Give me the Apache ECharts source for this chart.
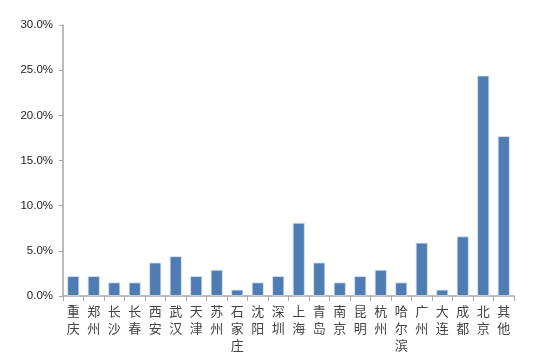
<!DOCTYPE html>
<html>
<head>
<meta charset="utf-8">
<script src="https://cdn.jsdelivr.net/npm/echarts@6/dist/echarts.min.js"></script>
<style>
  html, body { margin: 0; padding: 0; background: #fff; }
  #chart { width: 542px; height: 352px; }
</style>
</head>
<body>
<div id="chart"></div>
<script>
'use strict';

// 城市分类
const cities = ['重庆', '郑州', '长沙', '长春', '西安', '武汉', '天津', '苏州', '石家庄', '沈阳', '深圳',
                '上海', '青岛', '南京', '昆明', '杭州', '哈尔滨', '广州', '大连', '成都', '北京', '其他'];

// 占比 (%)
const shares = [2.2, 2.2, 1.5, 1.5, 3.7, 4.4, 2.2, 2.9, 0.7, 1.5, 2.2,
                8.1, 3.7, 1.5, 2.2, 2.9, 1.5, 5.9, 0.7, 6.6, 24.4, 17.7];

// 纵轴刻度
const yTicks = [0, 5, 10, 15, 20, 25, 30];

const myChart = echarts.init(document.getElementById('chart'));

const option = {
    animation: false,
    grid: { left: 63, right: 28, top: 25, bottom: 56, outerBoundsMode: 'none' },
    xAxis: {
        type: 'category',
        data: cities,
        axisLine: { lineStyle: { color: '#a6a6a6', width: 1.5 } },
        axisTick: { show: true, length: 5, lineStyle: { color: '#a6a6a6' } },
        axisLabel: {
            interval: 0,
            margin: 7,
            color: '#444',
            fontSize: 13,
            lineHeight: 17,
            fontFamily: 'Noto Sans CJK SC',
            formatter: v => v.split('').join('\n')
        }
    },
    yAxis: {
        type: 'value',
        min: yTicks[0],
        max: yTicks[yTicks.length - 1],
        interval: 5,
        axisLine: { show: true, lineStyle: { color: '#a6a6a6', width: 1.5 } },
        axisTick: { show: true, length: 4, lineStyle: { color: '#a6a6a6' } },
        splitLine: { show: false },
        axisLabel: {
            margin: 10,
            color: '#222',
            fontSize: 11.5,
            fontFamily: 'Liberation Sans',
            formatter: v => v.toFixed(1) + '%'
        }
    },
    series: [{
        type: 'bar',
        data: shares,
        barWidth: 12,
        itemStyle: {
            color: '#4f7db3',
            borderColor: '#dbe5f1',
            borderWidth: 0.8
        }
    }]
};

myChart.setOption(option);
</script>
</body>
</html>
